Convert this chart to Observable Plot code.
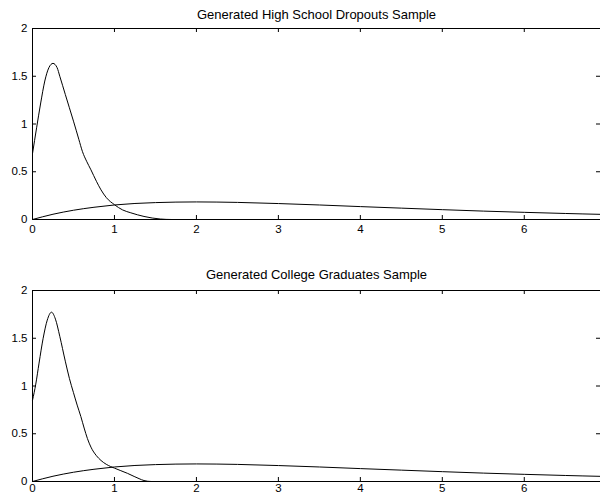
<!DOCTYPE html>
<html>
<head>
<meta charset="utf-8">
<script src="https://cdn.jsdelivr.net/npm/d3@7"></script>
<script src="https://cdn.jsdelivr.net/npm/@observablehq/plot@0.6"></script>
<style>
  html, body { margin: 0; padding: 0; background: #fff; }
  #chart svg { display: block; }
</style>
</head>
<body>
<div id="chart"></div>
<script>
// Estimated income densities (arbitrary units) for two generated samples.
const xTicks = [0, 1, 2, 3, 4, 5, 6];
const yTicks = [0, 0.5, 1, 1.5, 2];

// High school dropouts: sharp density near zero
const dropoutX = [0, 0.05, 0.1, 0.15, 0.2, 0.25, 0.3, 0.333, 0.4, 0.45, 0.5, 0.565, 0.61, 0.66, 0.713, 0.78, 0.836, 0.9, 1.0, 1.1, 1.2, 1.36, 1.56, 1.7, 2.0];
const dropoutY = [0.69, 0.96, 1.22, 1.45, 1.59, 1.635, 1.59, 1.5, 1.31, 1.17, 1.03, 0.84, 0.71, 0.61, 0.52, 0.40, 0.31, 0.23, 0.155, 0.10, 0.07, 0.032, 0.005, 0, 0];

// College graduates: sharp density near zero with a shoulder around 1
const collegeX = [0, 0.04, 0.08, 0.13, 0.18, 0.232, 0.28, 0.333, 0.4, 0.45, 0.5, 0.545, 0.59, 0.63, 0.67, 0.713, 0.78, 0.836, 0.9, 0.95, 1.0, 1.07, 1.16, 1.24, 1.3, 1.36, 1.45, 2.0];
const collegeY = [0.85, 1.02, 1.24, 1.5, 1.69, 1.773, 1.70, 1.52, 1.26, 1.08, 0.93, 0.80, 0.68, 0.56, 0.45, 0.36, 0.27, 0.22, 0.18, 0.158, 0.14, 0.116, 0.085, 0.053, 0.03, 0.01, 0, 0];

// Broad reference density shared by both panels
const broadX = [0, 0.25, 0.5, 0.75, 1, 1.5, 2, 2.5, 3, 3.5, 4, 4.5, 5, 5.5, 6, 6.5, 6.93];
const broadY = [0, 0.055, 0.097, 0.128, 0.152, 0.177, 0.184, 0.179, 0.167, 0.152, 0.135, 0.119, 0.103, 0.088, 0.075, 0.063, 0.054];

const xMax = 6.93;
const font = "'Liberation Sans', Arial, Helvetica, sans-serif";

function panel(title, sx, sy, {height, marginTop, marginBottom, titleDy, xPad}) {
  const peak = sx.map((x, i) => ({x, y: sy[i]}));
  const broad = broadX.map((x, i) => ({x, y: broadY[i]}));
  const frameH = height - marginTop - marginBottom;
  const frameW = 600 - 32;
  const tickLen = 4;
  return Plot.plot({
    width: 600,
    height,
    marginLeft: 32,
    marginRight: 0,
    marginTop,
    marginBottom,
    style: {fontFamily: font, fontSize: "11.5px", color: "black", background: "white"},
    x: {domain: [0, xMax], ticks: xTicks, tickSize: 0, tickPadding: xPad, tickFormat: d3.format(""), label: null},
    y: {domain: [0, 2], ticks: yTicks, tickSize: 0, tickPadding: 5, tickFormat: d3.format(""), label: null},
    marks: [
      // box: left, bottom and top edges
      Plot.ruleX([0], {stroke: "black"}),
      Plot.ruleY([0, 2], {stroke: "black"}),
      // inward tick marks on all four sides
      Plot.ruleX(xTicks.filter(d => d > 0), {stroke: "black", insetTop: frameH - tickLen}),
      Plot.ruleX(xTicks.filter(d => d > 0), {stroke: "black", insetBottom: frameH - tickLen}),
      Plot.ruleY(yTicks.filter(d => d > 0 && d < 2), {stroke: "black", insetRight: frameW - tickLen}),
      Plot.ruleY(yTicks.filter(d => d > 0 && d < 2), {stroke: "black", insetLeft: frameW - tickLen}),
      Plot.line(peak, {x: "x", y: "y", stroke: "black", strokeWidth: 1, curve: "monotone-x"}),
      Plot.line(broad, {x: "x", y: "y", stroke: "black", strokeWidth: 1, curve: "monotone-x"}),
      Plot.text([title], {
        frameAnchor: "top", lineAnchor: "bottom", dy: titleDy,
        fontSize: 13, fill: "black", fontFamily: font
      })
    ]
  });
}

const chart = document.getElementById("chart");
chart.append(panel("Generated High School Dropouts Sample", dropoutX, dropoutY,
  {height: 245, marginTop: 28, marginBottom: 26, titleDy: -10, xPad: 5}));
chart.append(panel("Generated College Graduates Sample", collegeX, collegeY,
  {height: 252, marginTop: 45, marginBottom: 16, titleDy: -12, xPad: 2}));
</script>
</body>
</html>
